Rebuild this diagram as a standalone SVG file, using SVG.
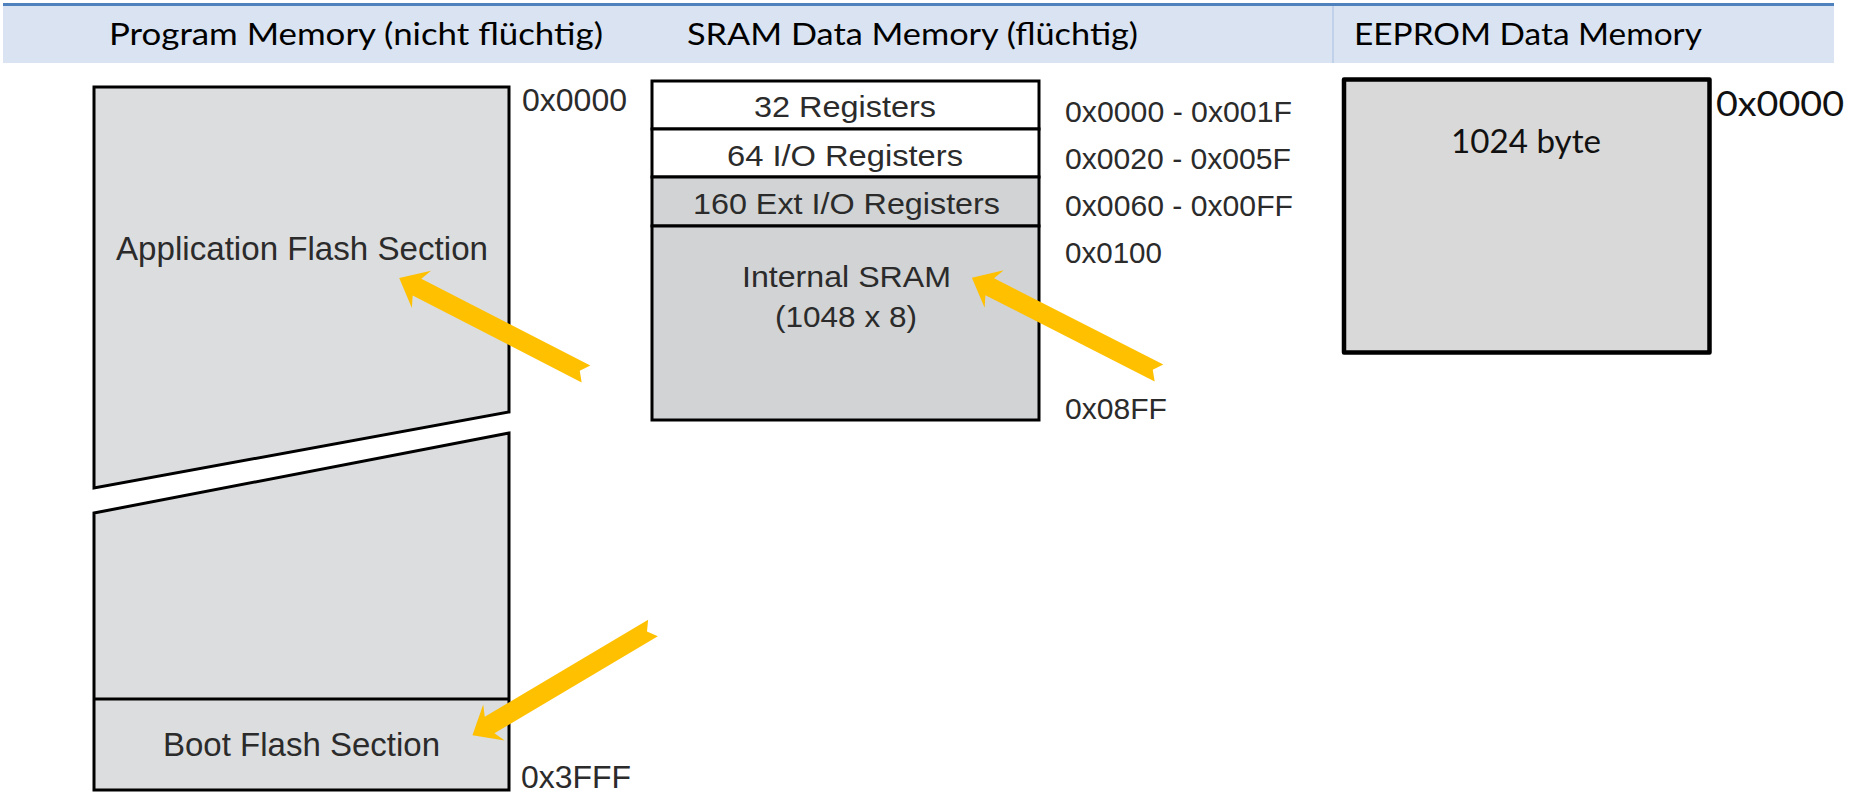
<svg xmlns="http://www.w3.org/2000/svg" width="1853" height="794" viewBox="0 0 1853 794">
  <style>
    .head { font-family: Lato, "Open Sans", "Liberation Sans", sans-serif; font-size: 31px; fill: #000; }
    .cal { font-family: Lato, "Open Sans", "Liberation Sans", sans-serif; fill: #111; }
    .ds { font-family: "Liberation Sans", Arial, sans-serif; fill: #2b2b2b; }
    .box { stroke: #000; stroke-width: 3; stroke-linejoin: miter; }
    .flash { fill: #dcdddf; }
    .sramgray { fill: #d1d3d5; }
    .white { fill: #fff; }
    .arrow { fill: #ffc000; }
  </style>
  <defs>
    <!-- notched block arrow, tail at origin, pointing along +x -->
    <path id="arrow" d="M0,-9.5 L190,-9.5 L185,-21 L210,0 L185,21 L190,9.5 L0,9.5 L7,0 Z"/>
  </defs>

  <rect width="1853" height="794" fill="#fff"/>

  <!-- header band -->
  <g id="header">
    <rect x="3" y="5" width="1831" height="58" fill="#dae3f1"/>
    <rect x="3" y="3" width="1831" height="3" fill="#4f81bd"/>
    <line x1="1333" y1="6" x2="1333" y2="63" stroke="#b8cbe6" stroke-width="1.5"/>
    <text class="head" x="109" y="45" textLength="494" lengthAdjust="spacingAndGlyphs">Program Memory (nicht flüchtig)</text>
    <text class="head" x="687" y="45" textLength="451" lengthAdjust="spacingAndGlyphs">SRAM Data Memory (flüchtig)</text>
    <text class="head" x="1354" y="45" textLength="348" lengthAdjust="spacingAndGlyphs">EEPROM Data Memory</text>
  </g>

  <!-- program memory (flash) -->
  <g id="program-memory">
    <g id="app-flash">
      <polygon class="box flash" points="94,87 509,87 509,412 94,488"/>
      <text class="ds" x="116" y="260" font-size="32.5" textLength="372" lengthAdjust="spacingAndGlyphs">Application Flash Section</text>
    </g>
    <g id="boot-flash">
      <polygon class="box flash" points="94,513 509,433 509,790 94,790"/>
      <line class="box" x1="94" y1="699" x2="509" y2="699"/>
      <text class="ds" x="163" y="756" font-size="32.5" textLength="277" lengthAdjust="spacingAndGlyphs">Boot Flash Section</text>
    </g>
    <text class="ds" x="522" y="111" font-size="32" textLength="105" lengthAdjust="spacingAndGlyphs">0x0000</text>
    <text class="ds" x="521" y="788" font-size="31" textLength="110" lengthAdjust="spacingAndGlyphs">0x3FFF</text>
  </g>

  <!-- SRAM data memory -->
  <g id="sram">
    <rect class="box white" x="652" y="81" width="387" height="48"/>
    <rect class="box white" x="652" y="129" width="387" height="48"/>
    <rect class="box sramgray" x="652" y="177" width="387" height="49"/>
    <rect class="box sramgray" x="652" y="226" width="387" height="194"/>
    <text class="ds" x="754" y="117" font-size="30" textLength="182" lengthAdjust="spacingAndGlyphs">32 Registers</text>
    <text class="ds" x="727" y="166" font-size="30" textLength="236" lengthAdjust="spacingAndGlyphs">64 I/O Registers</text>
    <text class="ds" x="693" y="214" font-size="30" textLength="307" lengthAdjust="spacingAndGlyphs">160 Ext I/O Registers</text>
    <text class="ds" x="742" y="287" font-size="30" textLength="209" lengthAdjust="spacingAndGlyphs">Internal SRAM</text>
    <text class="ds" x="775" y="327" font-size="30" textLength="142" lengthAdjust="spacingAndGlyphs">(1048 x 8)</text>
    <text class="ds" x="1065" y="122" font-size="30" textLength="227" lengthAdjust="spacingAndGlyphs">0x0000 - 0x001F</text>
    <text class="ds" x="1065" y="169" font-size="30" textLength="226" lengthAdjust="spacingAndGlyphs">0x0020 - 0x005F</text>
    <text class="ds" x="1065" y="216" font-size="30" textLength="228" lengthAdjust="spacingAndGlyphs">0x0060 - 0x00FF</text>
    <text class="ds" x="1065" y="263" font-size="30" textLength="97" lengthAdjust="spacingAndGlyphs">0x0100</text>
    <text class="ds" x="1065" y="419" font-size="30" textLength="102" lengthAdjust="spacingAndGlyphs">0x08FF</text>
  </g>

  <!-- EEPROM data memory -->
  <g id="eeprom">
    <rect x="1344" y="79.5" width="365.5" height="273" fill="#d9d9d9" stroke="#000" stroke-width="4.5" stroke-linejoin="round"/>
    <text class="cal" x="1451" y="153" font-size="32" textLength="150" lengthAdjust="spacingAndGlyphs">1024 byte</text>
    <text class="cal" x="1716" y="116" font-size="34" textLength="128" lengthAdjust="spacingAndGlyphs">0x0000</text>
  </g>

  <!-- pointer arrows -->
  <g id="connectors">
    <use href="#arrow" class="arrow" transform="translate(586,374) rotate(207.2)"/>
    <use href="#arrow" class="arrow" transform="translate(1159,373) rotate(207)"/>
    <use href="#arrow" class="arrow" transform="translate(653,628) rotate(149.3)"/>
  </g>
</svg>
